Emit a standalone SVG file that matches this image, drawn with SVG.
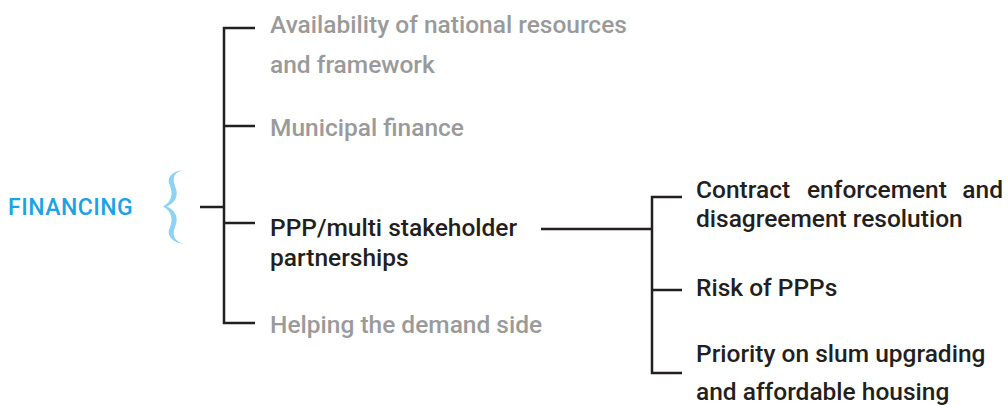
<svg xmlns="http://www.w3.org/2000/svg" width="1008" height="405" viewBox="0 0 1008 405">
<style>
.t{font-family:Roboto,"Liberation Sans",sans-serif;font-weight:500;font-size:24.5px}
.g{fill:#9a9a9a}
.d{fill:#231f20}
.c{stroke:#231f20;stroke-width:2.5;fill:none}
</style>
<rect width="1008" height="405" fill="#fff"/>
<g id="financing">
<text x="8" y="215" style="font-family:Roboto,'Liberation Sans',sans-serif;font-weight:500;fill:#1ba3e3;font-size:23px;letter-spacing:0.5px">FINANCING</text>
<path d="M184,170 C171,171 166,178 170,186 C173,193 172,202 163,206.5 C172,211 173,220 170,227 C166,235 171,242 184,244 C174,241 172,235 175,227 C179,218 176,211 167,206.5 C176,202 179,195 175,186 C172,178 174,172 184,170 Z" fill="#8dd3f3"/>
</g>
<g id="connectors" class="c">
<path d="M200,207 H224"/>
<path d="M255,28 H224 V323 H255"/>
<path d="M224,126 H255"/>
<path d="M224,223 H255"/>
<path d="M541,229 H652"/>
<path d="M682,197 H652 V373 H682"/>
<path d="M652,290 H682"/>
</g>
<g id="n1"><text class="t g" x="270" y="33">Availability of national resources</text><text class="t g" x="270" y="73">and framework</text></g>
<g id="n2"><text class="t g" x="270" y="136">Municipal finance</text></g>
<g id="n3"><text class="t d" x="270" y="236">PPP/multi stakeholder</text><text class="t d" x="270" y="266">partnerships</text></g>
<g id="n4"><text class="t g" x="270" y="333">Helping the demand side</text></g>
<g id="n5"><text class="t d" y="198"><tspan x="696">Contract</tspan><tspan x="807">enforcement</tspan><tspan x="1003" text-anchor="end">and</tspan></text><text class="t d" x="696" y="227">disagreement resolution</text></g>
<g id="n6"><text class="t d" x="696" y="296">Risk of PPPs</text></g>
<g id="n7"><text class="t d" x="696" y="362">Priority on slum upgrading</text><text class="t d" x="696" y="400">and affordable housing</text></g>
</svg>
